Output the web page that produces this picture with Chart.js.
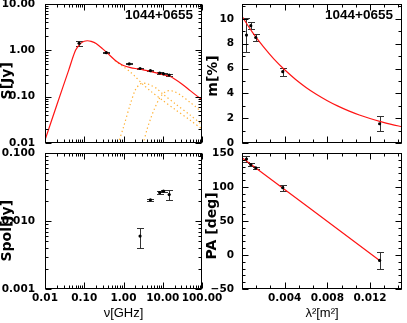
<!DOCTYPE html>
<html><head><meta charset="utf-8">
<script src="https://cdn.jsdelivr.net/npm/chart.js@4.4.1/dist/chart.umd.min.js"></script>
<style>
html,body{margin:0;padding:0;background:#fff;}
#wrap{position:relative;width:407px;height:323px;overflow:hidden;background:#fff;}
canvas{position:absolute;}
</style></head><body>
<div id="wrap">
<canvas id="cTL" width="207" height="150" style="left:0;top:0;width:207px;height:150px"></canvas>
<canvas id="cTR" width="201" height="150" style="left:206px;top:0;width:201px;height:150px"></canvas>
<canvas id="cBL" width="225" height="178" style="left:0;top:145px;width:225px;height:178px"></canvas>
<canvas id="cBR" width="202" height="178" style="left:205px;top:145px;width:202px;height:178px"></canvas>
</div>
<script>
// ---------------- data ----------------
const sourceName = '1044+0655';

const freqTicks = [0.01, 0.1, 1, 10, 100];
const freqTickLabels = ['0.01', '0.10', '1.00', '10.00', '100.00'];
const fluxTicks = [0.01, 0.1, 1, 10];
const fluxTickLabels = ['0.01', '0.10', '1.00', '10.00'];
const polTicks = [0.001, 0.01, 0.1];
const polTickLabels = ['0.001', '0.010', '0.100'];
const lam2Ticks = [0.004, 0.008, 0.012];
const lam2TickLabels = ['0.004', '0.008', '0.012'];
const fracTicks = [0, 2, 4, 6, 8, 10];
const fracTickLabels = ['0', '2', '4', '6', '8', '10'];
const paTicks = [-50, 0, 50, 100, 150];
const paTickLabels = ['\u221250', '0', '50', '100', '150'];

// total flux density (GHz, Jy)
const specFreq = [0.074, 0.365, 1.4, 2.64, 4.85, 8.35, 10.45, 14.6];
const specFlux = [1.42, 0.89, 0.51, 0.405, 0.363, 0.324, 0.311, 0.293];
const specErr  = [0.15, 0.03, 0.015, 0.012, 0.011, 0.010, 0.010, 0.010];

// fitted total spectrum (red)
const fitFreq = [0.01, 0.02, 0.04, 0.06, 0.08, 0.1, 0.12, 0.15, 0.2, 0.3, 0.4, 0.6, 0.8, 1, 1.5, 2, 3, 4, 6, 8, 10, 15, 20, 30, 50, 70, 100];
const fitFlux = [0.0116, 0.066, 0.37, 1.0, 1.4, 1.57, 1.61, 1.56, 1.4, 1.06, 0.85, 0.62, 0.52, 0.47, 0.425, 0.405, 0.385, 0.365, 0.335, 0.315, 0.3, 0.275, 0.24, 0.19, 0.135, 0.108, 0.086];

// fitted components (orange dotted)
const comp1Freq = [0.6, 0.8, 1, 1.5, 2, 3, 5, 10, 20, 50, 100];
const comp1Flux = [0.6, 0.5, 0.44, 0.34, 0.27, 0.19, 0.13, 0.083, 0.054, 0.031, 0.02];
const comp2Freq = [0.6, 0.74, 1, 1.5, 2, 2.5, 3, 4, 5, 7, 10, 20, 50, 100];
const comp2Flux = [0.0055, 0.01, 0.022, 0.07, 0.14, 0.18, 0.195, 0.19, 0.175, 0.15, 0.115, 0.072, 0.04, 0.025];
const comp3Freq = [2.7, 3.2, 4, 5, 6, 8, 10, 13, 16, 20, 30, 50, 70, 100];
const comp3Flux = [0.0065, 0.01, 0.02, 0.035, 0.052, 0.088, 0.115, 0.133, 0.135, 0.128, 0.105, 0.075, 0.06, 0.046];

// polarized flux density (GHz, Jy)
const polFreq = [2.64, 4.85, 8.35, 10.45, 14.6];
const polFlux = [0.0060, 0.0205, 0.0262, 0.0275, 0.0245];
const polErr  = [0.0020, 0.0008, 0.0010, 0.0010, 0.0042];

// vs lambda^2 (m^2)
const lam2 = [0.000421, 0.000823, 0.00129, 0.00382, 0.0129];
const fracPol = [8.7, 9.45, 8.5, 5.75, 1.55];
const fracErr = [1.35, 0.27, 0.26, 0.33, 0.62];
const polAngle = [141, 133, 128, 99, -8];
const polAngleErr = [4.5, 2, 2, 4.5, 13];

// depolarization fit (red)
const depolLam2 = [0, 0.001, 0.002, 0.003, 0.004, 0.005, 0.006, 0.007, 0.008, 0.009, 0.010, 0.011, 0.012, 0.013, 0.014, 0.015];
const depolFrac = [10.2, 8.89, 7.76, 6.76, 5.90, 5.14, 4.48, 3.91, 3.41, 2.97, 2.59, 2.26, 1.97, 1.72, 1.50, 1.31];
// rotation-measure fit (red)
const rmLam2 = [0, 0.0129];
const rmAngle = [143, -8];

// ---------------- helpers ----------------
const FONT = "'Liberation Sans', Arial, Helvetica, sans-serif";
const WIDE = "'DejaVu Sans', Verdana, sans-serif";
Chart.defaults.font.family = FONT;
Chart.defaults.color = '#000';
const pts = (xs, ys) => xs.map((x, i) => ({ x: x, y: ys[i] }));
function minorLog(decades) { const o = []; decades.forEach(d => { for (let k = 2; k <= 9; k++) o.push(d * k); }); return o; }
function steps(a, b, s) { const o = []; const n = Math.round((b - a) / s); for (let i = 0; i <= n; i++) o.push(a + i * s); return o; }

const tickSpec = {
  cTL: { xMaj: freqTicks, xMin: minorLog([0.01, 0.1, 1, 10]), yMaj: fluxTicks, yMin: minorLog([0.01, 0.1, 1]) },
  cBL: { xMaj: freqTicks, xMin: minorLog([0.01, 0.1, 1, 10]), yMaj: polTicks, yMin: minorLog([0.001, 0.01]) },
  cTR: { xMaj: [0].concat(lam2Ticks), xMin: steps(0, 0.0147, 0.004 / 3), yMaj: fracTicks, yMin: steps(0, 11, 1) },
  cBR: { xMaj: [0].concat(lam2Ticks), xMin: steps(0, 0.0147, 0.004 / 3), yMaj: paTicks, yMin: steps(-50, 150, 10) }
};

const frameTicks = {
  id: 'frameTicks',
  afterDraw(chart) {
    const spec = tickSpec[chart.canvas.id];
    const { ctx, chartArea: a, scales } = chart;
    const x = scales.x, y = scales.y;
    ctx.save();
    ctx.strokeStyle = '#000';
    ctx.lineWidth = 1;
    const L = Math.round(a.left) + 0.5, R = Math.round(a.right) - 0.5, T = Math.round(a.top) + 0.5, B = Math.round(a.bottom) - 0.5;
    ctx.strokeRect(L, T, R - L, B - T);
    ctx.beginPath();
    const inX = v => v >= x.min * (1 - 1e-9) - 1e-12 && v <= x.max * (1 + 1e-9) + 1e-12;
    const inY = v => v >= y.min - Math.abs(y.min) * 1e-9 - 1e-12 && v <= y.max + Math.abs(y.max) * 1e-9 + 1e-12;
    const xt = (v, len) => { if (!inX(v)) return; const p = Math.round(x.getPixelForValue(v)) + 0.5; ctx.moveTo(p, B); ctx.lineTo(p, B - len); ctx.moveTo(p, T); ctx.lineTo(p, T + len); };
    const yt = (v, len) => { if (!inY(v)) return; const p = Math.round(y.getPixelForValue(v)) + 0.5; ctx.moveTo(L, p); ctx.lineTo(L + len, p); ctx.moveTo(R, p); ctx.lineTo(R - len, p); };
    spec.xMin.forEach(v => xt(v, 3));
    spec.xMaj.forEach(v => xt(v, 6));
    spec.yMin.forEach(v => yt(v, 3));
    spec.yMaj.forEach(v => yt(v, 6));
    ctx.stroke();
    ctx.restore();
  }
};

const errorBars = {
  id: 'errorBars',
  beforeDatasetsDraw(chart) {
    const { ctx, scales } = chart;
    const x = scales.x, y = scales.y;
    ctx.save();
    ctx.strokeStyle = '#333';
    ctx.lineWidth = 1;
    chart.data.datasets.forEach(ds => {
      if (!ds.errors) return;
      ds.data.forEach((p, j) => {
        const e = ds.errors[j];
        const px = Math.round(x.getPixelForValue(p.x)) + 0.5;
        const y1 = Math.round(y.getPixelForValue(p.y + e)) + 0.5;
        const y2 = Math.round(y.getPixelForValue(p.y - e)) + 0.5;
        ctx.beginPath();
        ctx.moveTo(px, y1); ctx.lineTo(px, y2);
        ctx.moveTo(px - 3.5, y1); ctx.lineTo(px + 3.5, y1);
        ctx.moveTo(px - 3.5, y2); ctx.lineTo(px + 3.5, y2);
        ctx.stroke();
      });
    });
    ctx.restore();
  }
};

const panelLabel = {
  id: 'panelLabel',
  afterDraw(chart) {
    if (chart.canvas.id !== 'cTL' && chart.canvas.id !== 'cTR') return;
    const { ctx, chartArea: a } = chart;
    ctx.save();
    ctx.font = 'bold 13.5px ' + FONT;
    ctx.fillStyle = '#000';
    ctx.textAlign = 'right';
    ctx.textBaseline = 'middle';
    ctx.fillText(sourceName, a.right - 9, a.top + 11);
    ctx.restore();
  }
};

function fixSize(w, h) {
  return function (s) {
    if (w !== null) s.width = w;
    if (h !== null) s.height = h;
    s.paddingLeft = 0; s.paddingRight = 0; s.paddingTop = 0; s.paddingBottom = 0;
  };
}
const tickFont = { family: WIDE, size: 10.5, weight: 'bold' };
const yTitleFont = { family: WIDE, size: 14, weight: 'bold', lineHeight: 1.07 };
const xTitleFont = { size: 13, weight: 'normal', lineHeight: 1.2 };

function scaleCfg(o) {
  const c = {
    type: o.type, min: o.min, max: o.max, position: o.position,
    grid: { display: false, drawTicks: false },
    border: { display: false },
    ticks: { display: !!o.ticks, font: tickFont, color: '#000', padding: o.pad || 0, autoSkip: false, maxRotation: 0, minRotation: 0 },
    title: { display: !!o.title, text: o.title || '', font: o.titleFont, color: '#000', padding: o.titlePad || { top: 0, bottom: 0 } },
    afterFit: fixSize(o.w === undefined ? null : o.w, o.h === undefined ? null : o.h)
  };
  if (o.ticks) {
    c.afterBuildTicks = s => { s.ticks = o.ticks.map(v => ({ value: v })); };
    c.ticks.callback = (v, i) => o.labels[i];
  }
  return c;
}

function lineDs(xs, ys, color, width, dash) {
  return { data: pts(xs, ys), showLine: true, pointRadius: 0, borderColor: color, borderWidth: width, borderDash: dash || [], tension: 0.3, fill: false };
}
function pointDs(xs, ys, errs) {
  return { data: pts(xs, ys), showLine: false, pointRadius: 1.6, pointBackgroundColor: '#000', pointBorderColor: '#000', pointBorderWidth: 0, errors: errs };
}

const RED = 'rgb(255,20,20)';
const ORANGE = 'rgb(255,176,50)';
const DOT = [1.3, 2.7];

function makeChart(id, datasets, xs, ys, padding) {
  return new Chart(document.getElementById(id), {
    type: 'scatter',
    data: { datasets: datasets },
    options: {
      responsive: false, animation: false, events: [],
      layout: { padding: padding },
      plugins: { legend: { display: false }, tooltip: { enabled: false } },
      scales: { x: xs, y: ys }
    },
    plugins: [errorBars, frameTicks, panelLabel]
  });
}

// Top-left: total flux density spectrum
makeChart('cTL', [
  pointDs(specFreq, specFlux, specErr),
  lineDs(fitFreq, fitFlux, RED, 1.2),
  lineDs(comp1Freq, comp1Flux, ORANGE, 1.2, DOT),
  lineDs(comp2Freq, comp2Flux, ORANGE, 1.2, DOT),
  lineDs(comp3Freq, comp3Flux, ORANGE, 1.2, DOT)
],
  scaleCfg({ type: 'logarithmic', min: 0.01, max: 100, position: 'bottom', h: 7 }),
  scaleCfg({ type: 'logarithmic', min: 0.01, max: 10, position: 'left', w: 45, ticks: fluxTicks, labels: fluxTickLabels, pad: 10, title: 'S[Jy]   ', titleFont: yTitleFont }),
  { top: 4, right: 5, left: 0, bottom: 0 });

// Top-right: fractional polarization
makeChart('cTR', [
  pointDs(lam2, fracPol, fracErr),
  lineDs(depolLam2, depolFrac, RED, 1.2)
],
  scaleCfg({ type: 'linear', min: 0, max: 0.015, position: 'bottom', h: 7 }),
  scaleCfg({ type: 'linear', min: 0, max: 11.2, position: 'left', w: 36, ticks: fracTicks, labels: fracTickLabels, pad: 8, title: 'm[%] ', titleFont: yTitleFont }),
  { top: 4, right: 5, left: 0, bottom: 0 });

// Bottom-left: polarized flux density
makeChart('cBL', [
  pointDs(polFreq, polFlux, polErr)
],
  scaleCfg({ type: 'logarithmic', min: 0.01, max: 100, position: 'bottom', h: 34, ticks: freqTicks, labels: freqTickLabels, pad: 3, title: '\u03bd[GHz]', titleFont: xTitleFont, titlePad: { top: 0, bottom: 2 } }),
  scaleCfg({ type: 'logarithmic', min: 0.001, max: 0.1, position: 'left', w: 45, ticks: polTicks, labels: polTickLabels, pad: 10, title: 'Spol[Jy]    ', titleFont: yTitleFont }),
  { top: 8, right: 23, left: 0, bottom: 0 });

// Bottom-right: polarization angle
makeChart('cBR', [
  pointDs(lam2, polAngle, polAngleErr),
  lineDs(rmLam2, rmAngle, RED, 1.2)
],
  scaleCfg({ type: 'linear', min: 0, max: 0.015, position: 'bottom', h: 34, ticks: lam2Ticks, labels: lam2TickLabels, pad: 3, title: '\u03bb\u00b2[m\u00b2]', titleFont: xTitleFont, titlePad: { top: 0, bottom: 2 } }),
  scaleCfg({ type: 'linear', min: -50, max: 150, position: 'left', w: 37, ticks: paTicks, labels: paTickLabels, pad: 8, title: 'PA [deg]  ', titleFont: yTitleFont }),
  { top: 8, right: 5, left: 0, bottom: 0 });
</script>
</body></html>
